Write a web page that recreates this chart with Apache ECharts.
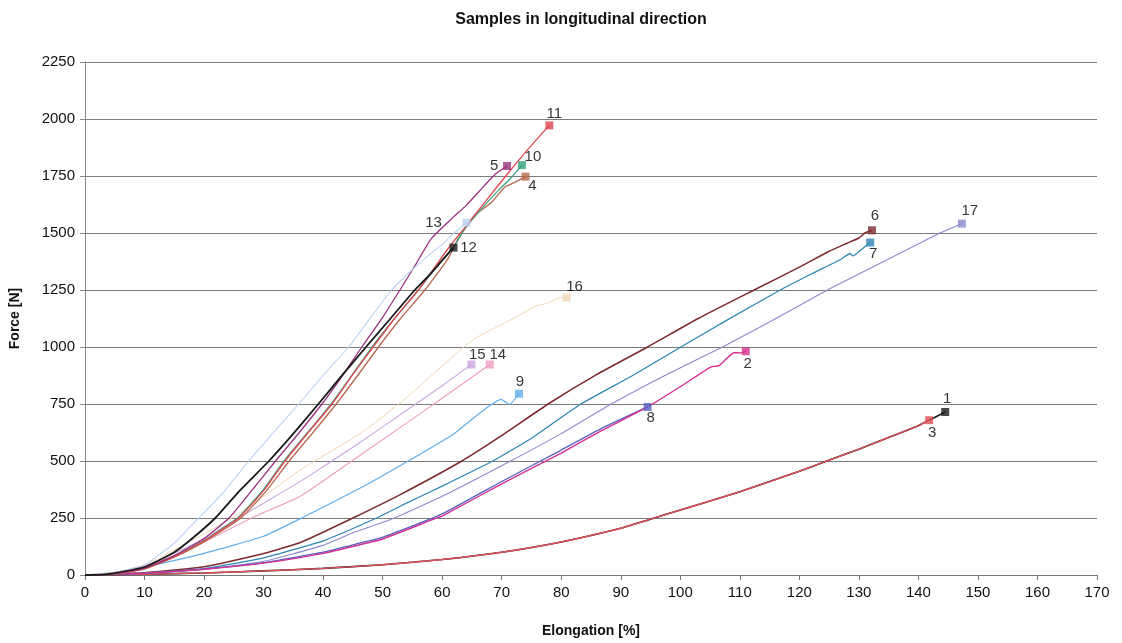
<!DOCTYPE html>
<html>
<head>
<meta charset="utf-8">
<title>Samples in longitudinal direction</title>
<script src="https://cdn.jsdelivr.net/npm/echarts@6/dist/echarts.min.js"></script>
<style>
  html, body { margin: 0; padding: 0; background: #fff; }
  #chart { width: 1122px; height: 643px; }
</style>
</head>
<body>
<div id="chart"></div>
<script>
// elongation [%], force [N] pairs
var s1 = [[0,0],[10,3],[20,9],[30,18],[40,29],[50,45],[60,68],[70,100],[80,145],[90,205],[95,245],[100,285],[110,365],[120,455],[124.6,500],[130,552],[135,603],[140,655],[141.8,679],[144.5,715]];
var s2 = [[0,0],[10,8],[20,25],[30,52],[40,95],[46.5,135],[50,158],[58.8,247],[60,258],[70,400],[80,535],[86.7,632],[94.5,737],[100.6,836],[105.1,912],[106.5,918],[109,975],[110,974],[111,981]];
var s3 = [[0,0],[10,3],[20,9],[30,18],[40,29],[50,45],[60,68],[70,100],[80,145],[90,205],[95,245],[100,285],[110,365],[120,455],[124.6,500],[130,552],[135,603],[140,655],[141.8,679]];
var s4 = [[0,0],[5,5],[10,26],[15,78],[20,145],[26.2,250],[30.5,370],[34.3,500],[38.3,625],[42.2,750],[45.8,875],[49.3,1000],[53,1125],[57.1,1250],[61,1388],[62.7,1475],[65.5,1577],[68.3,1635],[70.5,1701],[72,1720],[74,1747]];
var s5 = [[0,0],[5,6],[10,30],[15,85],[20,160],[24.2,250],[28,370],[32,500],[36,625],[39.8,750],[43,865],[46.5,1000],[50,1130],[52.9,1250],[55.5,1360],[58.2,1476],[61.6,1563],[64,1620],[67.1,1708],[69,1760],[70.9,1794]];
var s6 = [[0,0],[10,10],[20,36],[30,94],[36.4,145],[45,250],[53.2,356],[63.3,500],[69.9,610],[77.8,750],[86,880],[94.5,1000],[103,1125],[112.4,1250],[120,1350],[125,1420],[128,1455],[130,1478],[131,1500],[132.2,1512]];
var s7 = [[0,0],[10,8],[20,28],[30,75],[40,150],[49,250],[53.2,305],[60,390],[68.5,500],[75,600],[83.3,750],[92,875],[100.1,1000],[108,1120],[116.8,1250],[122,1320],[127,1385],[128.5,1410],[129,1400],[131,1440],[131.9,1458]];
var s8 = [[0,0],[10,8],[20,26],[30,54],[40,100],[46.5,142],[50,165],[60,268],[70,410],[80,548],[86.7,642],[94.5,737]];
var s9 = [[0,0],[5,12],[10,35],[20,95],[30,170],[36.4,250],[46.5,385],[54.3,500],[62,620],[69.9,770],[71.3,748],[72.9,795]];
var s10 = [[0,0],[5,5],[10,28],[15,82],[20,152],[25.6,250],[30,375],[33.4,500],[37.4,625],[41.3,750],[44.8,875],[48.2,1000],[52,1125],[56,1250],[59,1350],[62.1,1446],[63.8,1519],[66.6,1606],[69.4,1686],[71.5,1740],[73.4,1798]];
var s11 = [[0,0],[5,5],[10,28],[15,80],[20,150],[25.8,250],[30,370],[33.6,500],[37.5,625],[41.5,750],[45,880],[48.4,1000],[52,1125],[56,1250],[58.5,1340],[61,1432],[64,1530],[67,1630],[71,1760],[74.5,1870],[78,1972]];
var s12 = [[0,0],[3,2],[5,8],[10,35],[15,100],[18,160],[21.9,250],[26,370],[30.9,500],[35,620],[39.2,750],[43,870],[47.2,1000],[51,1115],[55.4,1250],[58,1320],[60,1380],[61.9,1436]];
var s13 = [[0,0],[5,10],[10,45],[15,140],[19.1,250],[23,355],[27.5,500],[31.5,620],[35.9,750],[40,875],[44.3,1000],[48,1130],[51.5,1250],[55,1340],[57.7,1402],[60,1450],[62,1500],[64.1,1545]];
var s14 = [[0,0],[5,8],[10,35],[15,85],[20,145],[28,250],[36.4,349],[44.8,500],[52,630],[60,775],[68,923]];
var s15 = [[0,0],[5,10],[10,40],[15,95],[20,160],[25.8,250],[30,315],[36.4,414],[45,560],[55,740],[60,830],[64.9,923]];
var s16 = [[0,0],[5,12],[10,45],[15,110],[20,180],[25,255],[30,345],[36.4,465],[46.5,625],[53.2,760],[58,870],[63.2,990],[66,1045],[69.9,1097],[73,1140],[75.5,1177],[78,1195],[79.5,1215],[80.9,1217]];
var s17 = [[0,0],[10,7],[20,24],[30,60],[40,130],[45,185],[52,250],[60,345],[71.5,500],[80,620],[88.4,750],[97,870],[107.1,1000],[115,1110],[124.7,1250],[133,1360],[143.6,1500],[147.3,1541]];

var sampleNames = ['1','2','3','4','5','6','7','8','9','10','11','12','13','14','15','16','17'];
var sampleData = [s1,s2,s3,s4,s5,s6,s7,s8,s9,s10,s11,s12,s13,s14,s15,s16,s17];
var xTicks = { min: 0, max: 170, step: 10 };
var yTicks = { min: 0, max: 2250, step: 250 };

// look of each curve: colour, line width, label offset from the end marker
var colors = ['#1a1a1a','#d42f8f','#e0505a','#b8684c','#98307e','#7c2a2e','#2f86b3','#5560c0','#62aeea','#35a07a','#e0464e','#1a1a1a','#bcd3f0','#ee9cc0','#c8a8dc','#f0d6b4','#8a8ad0'];
var widths = [1.6,1.4,1.4,1.3,1.3,1.5,1.3,1.3,1.2,1.2,1.3,1.8,1.1,1.1,1.1,1.0,1.1];
var labelOffsets = [[2,-13],[2,13],[3,13],[7,9],[-13,0],[3,-14],[3,11],[3,11],[1,-12],[11,-8],[5,-12],[15,0],[-33,0],[8,-10],[6,-10],[8,-11],[8,-13]];
// draw order so that 3 lies on 1 and 2 on 8, as in the scan
var drawOrder = [0,2,16,5,6,7,1,8,15,14,13,3,9,10,4,12,11];

var chart = echarts.init(document.getElementById('chart'));
var font = '"Liberation Sans", Arial, sans-serif';

var series = [];
drawOrder.forEach(function (i) {
    series.push({
        name: sampleNames[i],
        type: 'line',
        data: sampleData[i],
        smooth: 0.15,
        symbol: 'none',
        lineStyle: { color: colors[i], width: widths[i] },
        z: 2,
        animation: false
    });
});

var ends = sampleData.map(function (d, i) {
    var last = d[d.length - 1];
    return {
        value: last,
        name: sampleNames[i],
        itemStyle: { color: colors[i] },
        label: { offset: labelOffsets[i] }
    };
});
series.push({
    type: 'scatter',
    data: ends,
    symbol: 'rect',
    symbolSize: 8,
    z: 5,
    animation: false,
    label: {
        show: true,
        position: 'inside',
        formatter: '{b}',
        color: '#000',
        fontFamily: font,
        fontSize: 15,
        align: 'center',
        verticalAlign: 'middle'
    }
});

var option = {
    backgroundColor: '#fff',
    title: {
        text: 'Samples in longitudinal direction',
        left: 576,
        textAlign: 'center',
        top: 7,
        textStyle: { fontFamily: font, fontSize: 16, fontWeight: 'bold', color: '#111' }
    },
    grid: { left: 83, right: 25, top: 62, bottom: 65 },
    xAxis: {
        type: 'value',
        min: xTicks.min, max: xTicks.max, interval: xTicks.step,
        name: 'Elongation [%]',
        nameLocation: 'middle',
        nameGap: 49,
        nameTextStyle: { fontFamily: font, fontSize: 14, fontWeight: 'bold', color: '#111' },
        axisLine: { lineStyle: { color: '#777', width: 1 } },
        axisTick: { show: true, inside: false, length: 5, lineStyle: { color: '#777' } },
        axisLabel: { fontFamily: font, fontSize: 15, color: '#111', margin: 10 },
        splitLine: { show: false }
    },
    yAxis: {
        type: 'value',
        min: yTicks.min, max: yTicks.max, interval: yTicks.step,
        name: 'Force [N]',
        nameLocation: 'middle',
        nameGap: 63,
        nameRotate: 90,
        nameTextStyle: { fontFamily: font, fontSize: 14, fontWeight: 'bold', color: '#111' },
        axisLine: { show: true, lineStyle: { color: '#888', width: 1 } },
        axisTick: { show: true, length: 5, lineStyle: { color: '#888' } },
        axisLabel: { fontFamily: font, fontSize: 15, color: '#111', margin: 10, formatter: function (v) { return String(v); } },
        splitLine: { show: true, lineStyle: { color: '#7a7a7a', width: 1 } }
    },
    series: series
};

chart.setOption(option);
</script>
</body>
</html>
